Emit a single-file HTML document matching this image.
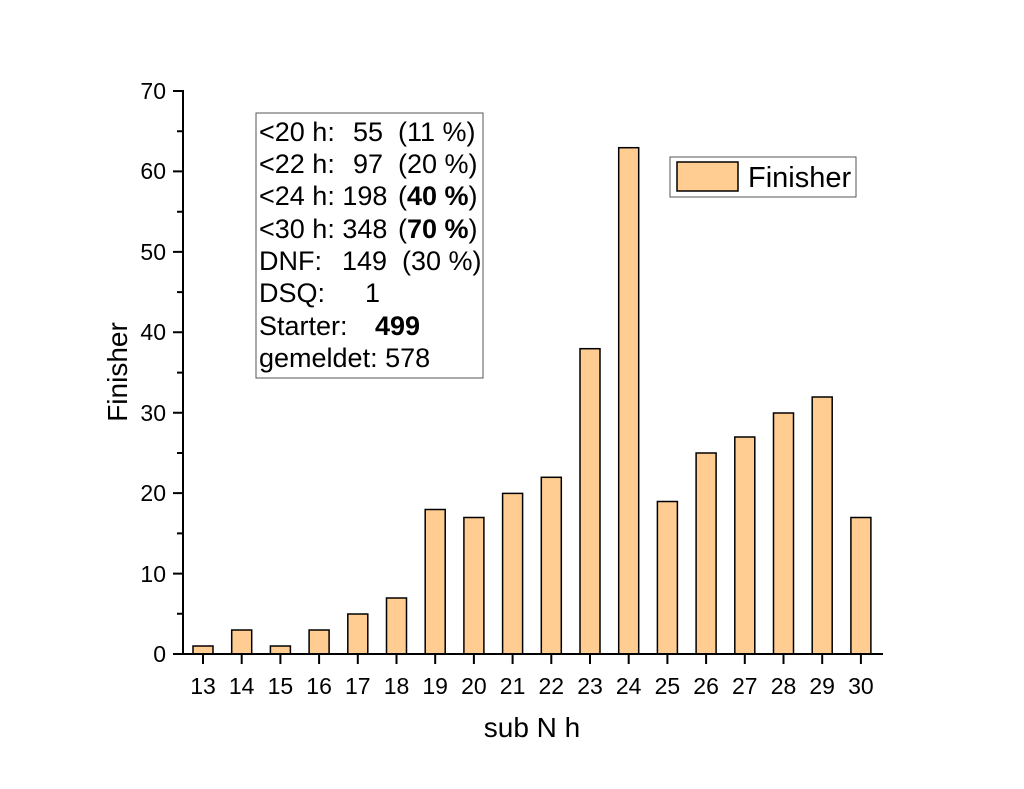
<!DOCTYPE html><html><head><style>body{margin:0;background:#fff}</style></head><body>
<svg width="1024" height="784" xmlns="http://www.w3.org/2000/svg" font-family="Liberation Sans, Arial, sans-serif">
<g fill="#ffcc91" stroke="#000" stroke-width="1.5">
<rect x="193" y="646" width="20" height="8"/>
<rect x="231.7" y="630" width="20" height="24"/>
<rect x="270.4" y="646" width="20" height="8"/>
<rect x="309.1" y="630" width="20" height="24"/>
<rect x="347.8" y="614" width="20" height="40"/>
<rect x="386.5" y="598" width="20" height="56"/>
<rect x="425.2" y="509.5" width="20" height="144.5"/>
<rect x="463.9" y="517.5" width="20" height="136.5"/>
<rect x="502.6" y="493.4" width="20" height="160.6"/>
<rect x="541.3" y="477.3" width="20" height="176.7"/>
<rect x="580" y="348.7" width="20" height="305.3"/>
<rect x="618.7" y="147.7" width="20" height="506.3"/>
<rect x="657.4" y="501.5" width="20" height="152.5"/>
<rect x="696.1" y="453" width="20" height="201"/>
<rect x="734.8" y="437" width="20" height="217"/>
<rect x="773.5" y="413" width="20" height="241"/>
<rect x="812.2" y="397" width="20" height="257"/>
<rect x="850.9" y="517.5" width="20" height="136.5"/>
</g>
<g stroke="#000" stroke-width="2">
<line x1="183" y1="90" x2="183" y2="655"/>
<line x1="182" y1="654" x2="883" y2="654"/>
<path d="M173 654H183M173 573.6H183M173 493.1H183M173 412.7H183M173 332.3H183M173 251.9H183M173 171.4H183M173 91H183"/>
<path d="M177 613.8H183M177 533.4H183M177 453H183M177 372.6H183M177 292.1H183M177 211.7H183M177 131.3H183"/>
<path d="M203 654v10M241.7 654v10M280.4 654v10M319.1 654v10M357.8 654v10M396.5 654v10M435.2 654v10M473.9 654v10M512.6 654v10M551.3 654v10M590 654v10M628.7 654v10M667.4 654v10M706.1 654v10M744.8 654v10M783.5 654v10M822.2 654v10M860.9 654v10"/>
</g>
<g font-size="23" text-anchor="end" fill="#000">
<text x="166" y="662">0</text><text x="166" y="582">10</text><text x="166" y="501">20</text><text x="166" y="421">30</text><text x="166" y="340">40</text><text x="166" y="260">50</text><text x="166" y="179">60</text><text x="166" y="99">70</text>
</g>
<g font-size="23" text-anchor="middle">
<text x="203" y="694">13</text><text x="241.7" y="694">14</text><text x="280.4" y="694">15</text><text x="319.1" y="694">16</text><text x="357.8" y="694">17</text><text x="396.5" y="694">18</text><text x="435.2" y="694">19</text><text x="473.9" y="694">20</text><text x="512.6" y="694">21</text><text x="551.3" y="694">22</text><text x="590" y="694">23</text><text x="628.7" y="694">24</text><text x="667.4" y="694">25</text><text x="706.1" y="694">26</text><text x="744.8" y="694">27</text><text x="783.5" y="694">28</text><text x="822.2" y="694">29</text><text x="860.9" y="694">30</text>
</g>
<text x="532" y="737" font-size="28" text-anchor="middle">sub N h</text>
<text transform="translate(127,372) rotate(-90)" font-size="28" text-anchor="middle">Finisher</text>
<rect x="256" y="113" width="227" height="265" fill="#fff" stroke="#555" stroke-width="1"/>
<g font-size="27">
<text x="259" y="141">&lt;20 h:</text><text x="383" y="141" text-anchor="end">55</text><text x="398" y="141">(11 %)</text>
<text x="259" y="173">&lt;22 h:</text><text x="383" y="173" text-anchor="end">97</text><text x="398" y="173">(20 %)</text>
<text x="259" y="205">&lt;24 h: 198</text><text x="398" y="205">(<tspan font-weight="bold">40 %</tspan>)</text>
<text x="259" y="238">&lt;30 h: 348</text><text x="398" y="238">(<tspan font-weight="bold">70 %</tspan>)</text>
<text x="259" y="270">DNF:</text><text x="387" y="270" text-anchor="end">149</text><text x="402" y="270">(30 %)</text>
<text x="259" y="302">DSQ:</text><text x="380" y="302" text-anchor="end">1</text>
<text x="259" y="335">Starter:</text><text x="375" y="335" font-weight="bold">499</text>
<text x="259" y="367">gemeldet: 578</text>
</g>
<rect x="670" y="157" width="186" height="40" fill="#fff" stroke="#555" stroke-width="1"/>
<rect x="677" y="162" width="61" height="29" fill="#ffcc91" stroke="#000" stroke-width="1.5"/>
<text x="748" y="187" font-size="29">Finisher</text>
</svg>
</body></html>
